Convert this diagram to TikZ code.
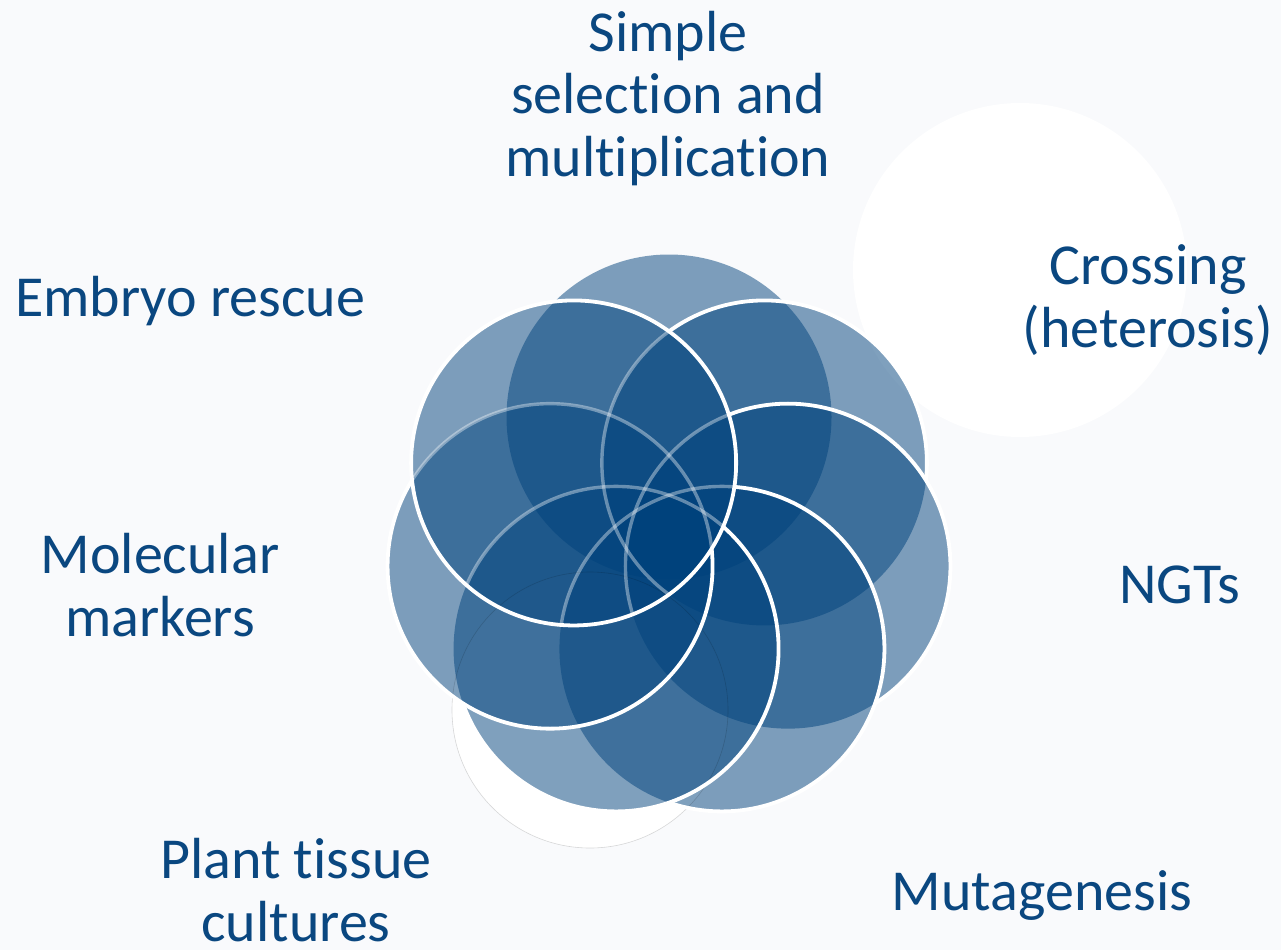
\documentclass[tikz,border=0pt]{standalone}
\usepackage{fontspec}
\setmainfont{Carlito}[Ligatures=NoCommon]
\usetikzlibrary{calc}
\definecolor{circblue}{RGB}{0,66,124}
\definecolor{txtblue}{RGB}{10,71,128}
\definecolor{bgcol}{RGB}{249,250,252}
\begin{document}
\begin{tikzpicture}[x=1pt,y=-1pt,
  lbl/.style={text=txtblue, font=\fontsize{58}{62.5}\selectfont, inner sep=0pt, align=center},
  petal/.style={fill=circblue, fill opacity=0.5},
  rim/.style={draw=white, line width=3.8pt},
  fadedrim/.style={draw=white, draw opacity=0.38, line width=3.4pt}]
\useasboundingbox (0,0) rectangle (1281,950);
\fill[bgcol] (0,0) rectangle (1281,950);
\fill[white] (1020,270) circle[radius=167pt];
\coordinate (O) at (669,539);
\coordinate (G) at (590,710);
\fill[white] (G) circle[radius=138pt];
\foreach \i/\a in {1/-90,2/-38.571,3/12.857,4/64.286,5/115.714,6/167.143,7/218.571}
  \coordinate (C\i) at ($(O)+(\a:122)$);
% fills
\foreach \i in {1,...,7}
  \fill[petal] (C\i) circle[radius=162.5pt];
% ghost outline
\draw[black, draw opacity=0.15, line width=0.6pt] (G) circle[radius=138pt];
% crisp rims, hidden under later petals
\begin{scope}[even odd rule]
  \clip (-100,-100) -- (1400,-100) -- (1400,1100) -- (-100,1100) -- cycle (C7) circle[radius=162.5pt];
  \draw[rim] (C6) circle[radius=162.5pt];
  \clip (-100,-100) -- (1400,-100) -- (1400,1100) -- (-100,1100) -- cycle (C6) circle[radius=162.5pt];
  \draw[rim] (C5) circle[radius=162.5pt];
  \clip (-100,-100) -- (1400,-100) -- (1400,1100) -- (-100,1100) -- cycle (C5) circle[radius=162.5pt];
  \draw[rim] (C4) circle[radius=162.5pt];
  \clip (-100,-100) -- (1400,-100) -- (1400,1100) -- (-100,1100) -- cycle (C4) circle[radius=162.5pt];
  \draw[rim] (C3) circle[radius=162.5pt];
  \clip (-100,-100) -- (1400,-100) -- (1400,1100) -- (-100,1100) -- cycle (C3) circle[radius=162.5pt];
  \draw[rim] (C2) circle[radius=162.5pt];
\end{scope}
% faded rims under the last petal
\begin{scope}
  \clip (C7) circle[radius=162.5pt];
  \foreach \i in {2,...,6}
    \draw[fadedrim] (C\i) circle[radius=162.5pt];
\end{scope}
\draw[rim] (C7) circle[radius=162.5pt];
% labels (base = baseline of the last line)
\node[lbl, anchor=base] (simple) at (668,176) {Simple\\selection and\\multiplication};
\node[lbl, anchor=base] (crossing) at (1148,347) {Crossing\\(heterosis)};
\node[lbl, anchor=base] (ngts) at (1179.5,603) {NGTs};
\node[lbl, anchor=base] (mutagenesis) at (1042,910) {Mutagenesis};
\node[lbl, anchor=base] (plant) at (296,941) {Plant tissue\\cultures};
\node[lbl, anchor=base] (molecular) at (160,636) {Molecular\\markers};
\node[lbl, anchor=base west] (embryo) at (15,316) {Embryo rescue};
\end{tikzpicture}
\end{document}
